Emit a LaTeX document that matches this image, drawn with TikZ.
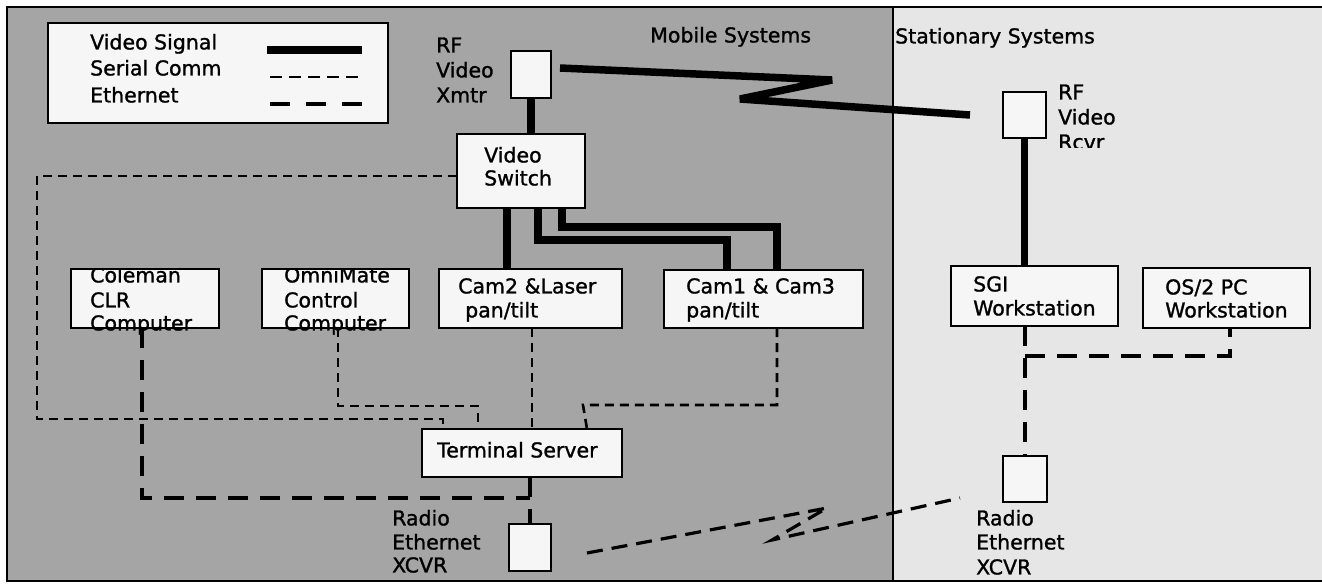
\documentclass[tikz,border=0pt]{standalone}
\usepackage{fontspec}
\setmainfont[FakeBold=1.2]{DejaVu Sans}
\definecolor{mobilebg}{HTML}{A5A5A5}
\definecolor{statbg}{HTML}{E6E6E6}
\definecolor{boxfill}{HTML}{F6F6F6}
\begin{document}
\begin{tikzpicture}[x=1pt,y=-1pt,
  box/.style={draw=black, line width=2.2pt, fill=boxfill, inner sep=0pt, rectangle},
  lbl/.style={anchor=west, inner sep=0pt, font=\fontsize{20.5}{24}\selectfont, text height=14.9pt, text depth=0pt},
  video/.style={line width=7.5pt, line join=miter},
  serial/.style={line width=2.6pt, dash pattern=on 9pt off 6pt},
  ether/.style={line width=3.2pt, dash pattern=on 20pt off 12pt},
]
\useasboundingbox (0,0) rectangle (1322,584);
% backgrounds
\fill[white] (0,0) rectangle (1322,584);
\fill[mobilebg] (7,7) rectangle (893,581);
\fill[statbg] (893,7) rectangle (1322,581);
\draw[line width=2.2pt] (1322,7) -- (7,7) -- (7,581) -- (1322,581);
\draw[line width=2.2pt] (893,7) -- (893,581);

% box nodes
\node[box, minimum width=340pt, minimum height=100pt] (legend) at (218,73) {};
\node[box, minimum width=38pt,  minimum height=45pt]  (xmtr)   at (531,74.5) {};
\node[box, minimum width=41pt,  minimum height=44pt]  (rcvr)   at (1024.5,115) {};
\node[box, minimum width=126pt, minimum height=72pt]  (sw)     at (521,171) {};
\node[box, minimum width=146pt, minimum height=57pt]  (cole)   at (145,298.5) {};
\node[box, minimum width=145pt, minimum height=57pt]  (omni)   at (335.5,298.5) {};
\node[box, minimum width=181pt, minimum height=57pt]  (cam2)   at (530.5,298.5) {};
\node[box, minimum width=197pt, minimum height=56pt]  (cam1)   at (763.5,299) {};
\node[box, minimum width=198pt, minimum height=46pt]  (ts)     at (522,453) {};
\node[box, minimum width=40pt,  minimum height=45pt]  (xcvrL)  at (530,547.5) {};
\node[box, minimum width=165pt, minimum height=58pt]  (sgi)    at (1034.5,296) {};
\node[box, minimum width=165pt, minimum height=58pt]  (os2)    at (1226.5,298) {};
\node[box, minimum width=42pt,  minimum height=44pt]  (xcvrR)  at (1025,479) {};

\coordinate (zzA) at (560,68);
\coordinate (zzB) at (832,80);
\coordinate (zzC) at (740,99);
\coordinate (zzD) at (970,115);
\coordinate (etA) at (587,553);
\coordinate (etB) at (827,508);
\coordinate (etC) at (772,540);
\coordinate (etD) at (960,498);

% video
\draw[video] (xmtr.south) -- (xmtr.south |- sw.north);
\draw[video, line join=bevel] (zzA) -- (zzB) -- (zzC) -- (zzD);
\draw[video] (507,0 |- sw.south) -- (507,0 |- cam2.north);
\draw[video] (538,0 |- sw.south) -- (538,240) -- (727,240) -- (727,0 |- cam1.north);
\draw[video] (562,0 |- sw.south) -- (562,227) -- (777,227) -- (777,0 |- cam1.north);
\draw[video] (rcvr.south) -- (rcvr.south |- sgi.north);

% serial
\draw[serial] (sw.west |- 0,176) -- (37,176) -- (37,419) -- (443,419) -- (443,0 |- ts.north);
\draw[serial] (338,0 |- omni.south) -- (338,406) -- (478,406) -- (478,0 |- ts.north);
\draw[serial] (532,0 |- cam2.south) -- (532,0 |- ts.north);
\draw[serial] (777,0 |- cam1.south) -- (777,405) -- (583,405) -- (587,0 |- ts.north);

% ethernet
\draw[ether] (142,0 |- cole.south) -- (142,498) -- (530,498);
\draw[ether] (xcvrL.north |- ts.south) -- (xcvrL.north);
\draw[ether, dash pattern=on 16pt off 9pt] (etA) -- (etB) -- (etC) -- (etD);
\draw[ether] (xcvrR.north |- sgi.south) -- (xcvrR.north);
\draw[ether] (xcvrR.north |- 0,356) -- (1230,356) -- (1230,0 |- os2.south);

% redraw boxes on top of connector ends
\foreach \n in {xmtr,rcvr,sw,cole,omni,cam2,cam1,ts,xcvrL,sgi,os2,xcvrR}
  \draw[line width=2.2pt, fill=boxfill] (\n.north west) rectangle (\n.south east);

% legend samples
\coordinate (lgA1) at (267,50);  \coordinate (lgA2) at (362,50);
\coordinate (lgB1) at (270,77);  \coordinate (lgB2) at (362,77);
\coordinate (lgC1) at (270,104); \coordinate (lgC2) at (362,104);
\draw[line width=7.5pt] (lgA1) -- (lgA2);
\draw[line width=2.6pt, dash pattern=on 12pt off 7pt] (lgB1) -- (lgB2);
\draw[line width=3.2pt, dash pattern=on 20pt off 16pt] (lgC1) -- (lgC2);

% texts
\begin{scope}
\clip (7,7) rectangle (1322,580);
\node[lbl] (tL1) at (90,42) {Video Signal};
\node[lbl] (tL2) at (90,68) {Serial Comm};
\node[lbl] (tL3) at (90,95) {Ethernet};
\node[lbl] (tMob) at (650,35) {Mobile Systems};
\node[lbl] (tSta) at (895,36) {Stationary Systems};
\node[lbl] (tX1) at (436,45) {RF};
\node[lbl] (tX2) at (436,70) {Video};
\node[lbl] (tX3) at (436,95) {Xmtr};
\node[lbl] (tS1) at (484,155) {Video};
\node[lbl] (tS2) at (484,178) {Switch};
\node[lbl] (tC3) at (90,323) {Computer};
\node[lbl] (tC2) at (90,300) {CLR};
\node[lbl] (tO2) at (284,300) {Control};
\node[lbl] (tO3) at (284,323) {Computer};
\node[lbl] (tM1) at (458,286) {Cam2 \&Laser};
\node[lbl] (tM2) at (465,310) {pan/tilt};
\node[lbl] (tN1) at (686,286) {Cam1 \& Cam3};
\node[lbl] (tN2) at (686,310) {pan/tilt};
\node[lbl] (tG1) at (973,284) {SGI};
\node[lbl] (tG2) at (973,308) {Workstation};
\node[lbl] (tP1) at (1165,287) {OS/2 PC};
\node[lbl] (tP2) at (1165,310) {Workstation};
\node[lbl] (tT) at (437,450) {Terminal Server};
\node[lbl] (tRL1) at (392,518) {Radio};
\node[lbl] (tRL2) at (392,542) {Ethernet};
\node[lbl] (tRL3) at (392,565) {XCVR};
\node[lbl] (tRR1) at (976,518) {Radio};
\node[lbl] (tRR2) at (976,542) {Ethernet};
\node[lbl] (tRR3) at (976,567) {XCVR};
\end{scope}
\begin{scope}
\clip (60,270) rectangle (420,350);
\node[lbl] (tC1) at (90,275) {Coleman};
\node[lbl] (tO1) at (284,275) {OmniMate};
\end{scope}
\begin{scope}
\clip (1050,70) rectangle (1150,147);
\node[lbl] (tR1) at (1058,92) {RF};
\node[lbl] (tR2) at (1058,117) {Video};
\node[lbl] (tR3) at (1058,142) {Rcvr};
\end{scope}
\end{tikzpicture}
\end{document}
